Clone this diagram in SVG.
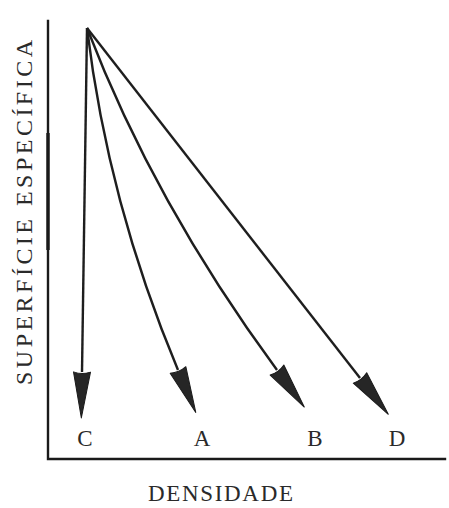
<svg xmlns="http://www.w3.org/2000/svg" width="449" height="508" viewBox="0 0 449 508">
  <style>
    .axis { stroke: #1a1a1a; stroke-width: 2.4; fill: none; stroke-linecap: square; }
    .conn { stroke: #1e1e1e; stroke-width: 2.4; fill: none; marker-end: url(#head); }
    .lbl { font-family: "Liberation Serif", "DejaVu Serif", serif; fill: #2a2a2a; }
    .pt { font-size: 23px; text-anchor: middle; }
  </style>
  <defs>
    <marker id="head" markerUnits="userSpaceOnUse" viewBox="0 0 46 20" markerWidth="46" markerHeight="20" refX="0" refY="10" orient="auto" overflow="visible">
      <path d="M0,1.5 Q3,10 0,18.5 L46,10 Z" fill="#262626" stroke="#1a1a1a" stroke-width="1" stroke-linejoin="round"/>
    </marker>
  </defs>
  <rect width="449" height="508" fill="#ffffff"/>

  <g id="axes">
    <path class="axis" d="M48,21 L48,459 L445,459"/>
    <path d="M48,133 L48,250" stroke="#1a1a1a" stroke-width="3.4"/>
  </g>

  <g id="axis-labels" class="lbl">
    <text id="y-label" transform="translate(32,385) rotate(-90)" font-size="24" textLength="345" lengthAdjust="spacing">SUPERFÍCIE ESPECÍFICA</text>
    <text id="x-label" x="148" y="501" font-size="23" textLength="145" lengthAdjust="spacing">DENSIDADE</text>
  </g>

  <g id="connectors">
    <path class="conn" d="M87,28 L82,372"/>
    <path class="conn" d="M87,28 Q108,203 178,370"/>
    <path class="conn" d="M87,28 Q154,203 277,370"/>
    <path class="conn" d="M87,28 L360,378"/>
  </g>

  <g id="node-C" class="lbl pt"><text x="85" y="446">C</text></g>
  <g id="node-A" class="lbl pt"><text x="202" y="446">A</text></g>
  <g id="node-B" class="lbl pt"><text x="315" y="446">B</text></g>
  <g id="node-D" class="lbl pt"><text x="397" y="446">D</text></g>
</svg>
